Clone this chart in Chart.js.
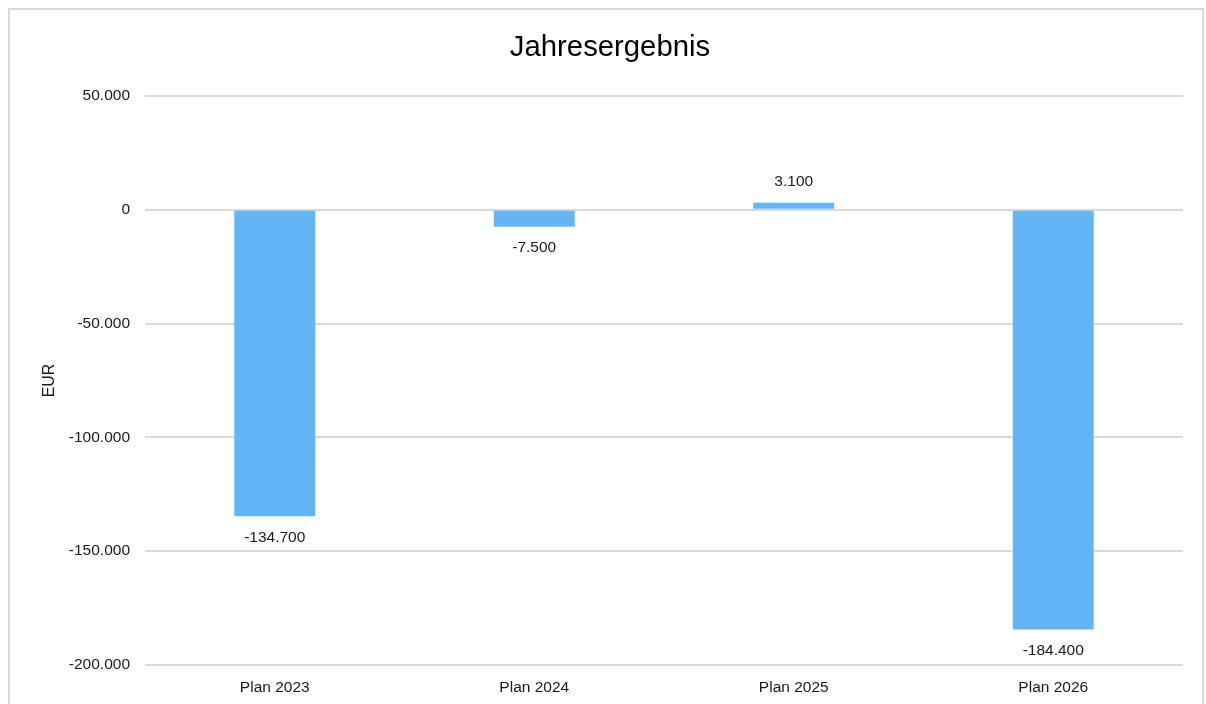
<!DOCTYPE html>
<html lang="de">
<head>
<meta charset="utf-8">
<title>Jahresergebnis</title>
<script src="https://cdn.jsdelivr.net/npm/chart.js@4/dist/chart.umd.min.js"></script>
<style>
    html, body { margin: 0; padding: 0; background: #fff; }
    body { width: 1206px; height: 704px; position: relative; overflow: hidden; }
    #rahmen {
        position: absolute; left: 8px; top: 8px; width: 1196px; height: 720px;
        border: 2px solid #d9d9d9; box-sizing: border-box;
    }
    #wrap { position: absolute; left: 0; top: 0; width: 1206px; height: 704px; }
</style>
</head>
<body>
<div id="rahmen"></div>
<div id="wrap"><canvas id="chart"></canvas></div>
<script>
var kategorien = ['Plan 2023', 'Plan 2024', 'Plan 2025', 'Plan 2026'];
var ergebnis = [-134700, -7500, 3100, -184400];
var yMin = -200000;
var yMax = 50000;
var yStep = 50000;

var schrift = '"Liberation Sans", Arial, sans-serif';

var formatEUR = function(v) {
        var s = Math.abs(Math.round(v)).toString().replace(/\B(?=(\d{3})+(?!\d))/g, '.');
        return (v < 0 ? '-' : '') + s;
    };

// Werte an die Balken schreiben
var balkenWerte = {
    id: 'balkenWerte',
    afterDatasetsDraw: (chart) => {
        const ctx = chart.ctx;
        const meta = chart.getDatasetMeta(0);
        ctx.save();
        ctx.font = '15.5px ' + schrift;
        ctx.fillStyle = '#1a1a1a';
        ctx.textAlign = 'center';
        ctx.textBaseline = 'middle';
        meta.data.forEach((bar, i) => {
            const v = ergebnis[i];
            const y = v < 0 ? bar.y + 21 : bar.y - 21;
            ctx.fillText(formatEUR(v), bar.x, y);
        });
        ctx.restore();
    }
};

var createBarChart = function(ctx) {
        return new Chart(ctx, {
            type: 'bar',
            data: {
                labels: kategorien,
                datasets: [{
                    data: ergebnis,
                    backgroundColor: '#64b5f6',
                    borderWidth: 0,
                    categoryPercentage: 1,
                    barPercentage: 0.312
                }]
            },
            options: {
                responsive: false,
                animation: false,
                layout: { padding: { left: 37, right: 23, top: 0, bottom: 0 } },
                plugins: {
                    legend: { display: false },
                    tooltip: { enabled: false },
                    title: {
                        display: true,
                        text: 'Jahresergebnis',
                        color: '#000',
                        font: { family: schrift, size: 29.3, weight: 'normal', lineHeight: 1.2 },
                        padding: { top: 30, bottom: 30.8 }
                    }
                },
                scales: {
                    x: {
                        grid: { display: false },
                        border: { display: false },
                        ticks: {
                            color: '#1a1a1a',
                            padding: 5,
                            font: { family: schrift, size: 15.5 }
                        },
                        afterFit: (scale) => { scale.height = 39; }
                    },
                    y: {
                        min: yMin,
                        max: yMax,
                        grid: { color: '#d9d9d9', lineWidth: 2, drawTicks: false },
                        border: { display: false },
                        ticks: {
                            stepSize: yStep,
                            color: '#1a1a1a',
                            padding: 15,
                            font: { family: schrift, size: 15.5 },
                            callback: (v) => formatEUR(v)
                        },
                        title: {
                            display: true,
                            text: 'EUR',
                            color: '#1a1a1a',
                            font: { family: schrift, size: 16, lineHeight: 1.2 },
                            padding: { top: 3, bottom: 0 }
                        },
                        afterFit: (scale) => { scale.width = 108; }
                    }
                }
            },
            plugins: [balkenWerte]
        });
    };

var canvas = document.getElementById('chart');
canvas.width = 1206;
canvas.height = 704;
var myChart = createBarChart(canvas.getContext('2d'));
</script>
</body>
</html>
